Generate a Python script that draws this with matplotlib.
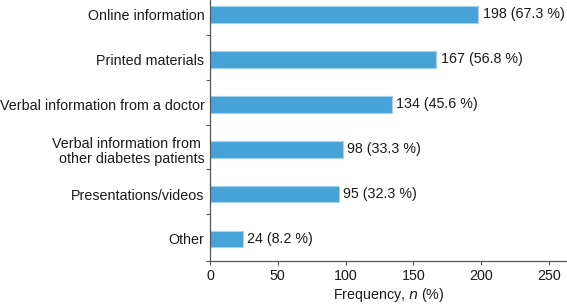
import matplotlib
matplotlib.use("Agg")
import matplotlib.pyplot as plt
import numpy as np

categories = ["Online information", "Printed materials", "Verbal information from a doctor",
              "Verbal information from \nother diabetes patients", "Presentations/videos", "Other"]
counts = [198, 167, 134, 98, 95, 24]
percents = [67.3, 56.8, 45.6, 33.3, 32.3, 8.2]
xticks = [0, 50, 100, 150, 200, 250]

plt.rcParams['font.family'] = ['Liberation Sans', 'DejaVu Sans']
FS = 10.3
fig = plt.figure(figsize=(5.67, 3.05), dpi=100)
ax = fig.add_axes([210/567, 44/305, 1 - 210/567, 1 - 44/305])

y = np.arange(len(categories))
ax.barh(y, counts, height=0.37, color='#47a2d8', edgecolor='#9fd3f0', linewidth=0.8)
for yi, c, p in zip(y, counts, percents):
    ax.text(c + 3, yi, f"{c} ({p} %)", va='center', ha='left', fontsize=FS, color='#1a1a1a')

ax.set_ylim(5.49, 5.49 - 261/44.9)
ax.set_xlim(0, 357/1.356)
ax.set_yticks(y)
ax.set_yticklabels(categories, fontsize=FS, color='#1a1a1a', linespacing=1.1)
ax.tick_params(axis='y', which='major', length=0, pad=4)
ax.set_yticks(list(np.arange(0, 5) + 0.45) + [5.49], minor=True)
ax.tick_params(axis='y', which='minor', length=3, width=0.8, color='#555555', direction='out')
ax.set_xticks(xticks)
ax.tick_params(axis='x', length=3, width=0.8, color='#555555', labelsize=FS, labelcolor='#1a1a1a', pad=3)
for s in ['top', 'right']:
    ax.spines[s].set_visible(False)
for s in ['left', 'bottom']:
    ax.spines[s].set_color('#555555')
    ax.spines[s].set_linewidth(0.9)
ax.set_xlabel("Frequency, $n$ (%)", fontsize=FS, color='#1a1a1a', labelpad=2)
fig.savefig("out.png", dpi=100)
